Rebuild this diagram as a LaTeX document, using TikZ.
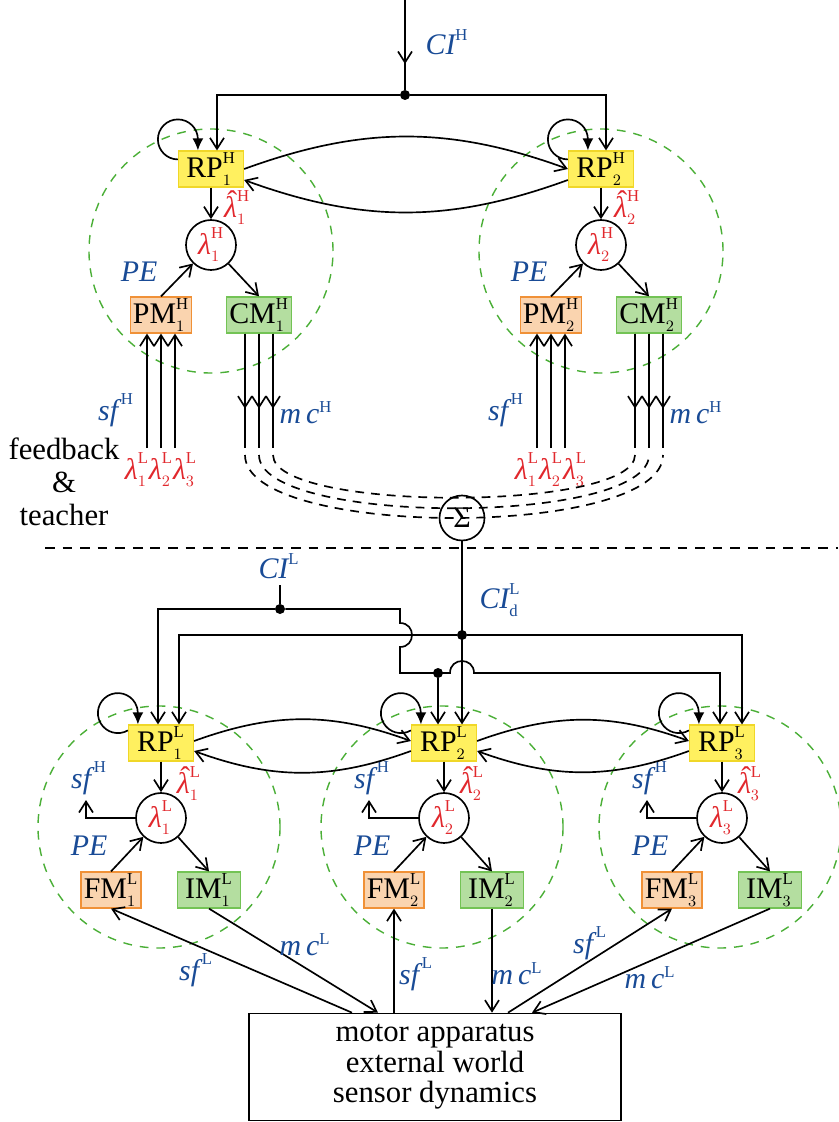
\documentclass[tikz,border=0pt]{standalone}
\usepackage{fontspec}
\setmainfont{Liberation Serif}
\usepackage{tikz}
\usetikzlibrary{arrows.meta}
\DeclareMathSizes{17}{17}{9.5}{7}
\definecolor{rpyellow}{RGB}{255, 240, 95}
\definecolor{rpedge}{RGB}{240, 215, 40}
\definecolor{pmorange}{RGB}{250, 212, 175}
\definecolor{pmedge}{RGB}{240, 145, 55}
\definecolor{cmgreen}{RGB}{180, 222, 160}
\definecolor{cmedge}{RGB}{115, 195, 85}
\definecolor{ringgreen}{RGB}{75, 175, 55}
\definecolor{labelblue}{RGB}{25, 75, 150}
\definecolor{labelred}{RGB}{225, 40, 45}
\newcommand{\lam}{\mbox{\itshape λ}}
\newcommand{\lamhat}{\mbox{\ooalign{\itshape λ\cr\hidewidth\smash{\raisebox{0.2em}{\hskip0.12em ˆ}}\hidewidth\cr}}}
\tikzset{
    wire/.style={line width=0.95pt},
    arr/.style={wire, -{Straight Barb[length=2.2mm,width=2.8mm]}},
    selfloop/.style={wire, -{Latex[length=2.4mm,width=2.2mm]}},
    ring/.style={ringgreen, dash pattern=on 5pt off 4.5pt, line width=0.8pt},
    fbdash/.style={wire, dash pattern=on 5pt off 4pt},
    unit/.style={draw, line width=0.7pt, minimum width=1.2cm, minimum height=0.7cm, inner xsep=1.5pt, inner ysep=1pt},
    rpbox/.style={unit, fill=rpyellow, draw=rpedge, minimum width=1.3cm},
    pmbox/.style={unit, fill=pmorange, draw=pmedge},
    cmbox/.style={unit, fill=cmgreen, draw=cmedge, minimum width=1.26cm},
    lamnode/.style={circle, draw, wire, minimum size=1cm, inner sep=0pt, text=labelred},
    sumnode/.style={circle, draw, wire, minimum size=0.9cm, inner sep=0pt},
    bluelabel/.style={text=labelblue},
    redlabel/.style={text=labelred},
    dot/.style={circle, fill, inner sep=0pt, minimum size=0.2cm}
}

\begin{document}
\begin{tikzpicture}[x=0.2mm, y=-0.2mm, font=\fontsize{17}{20}\selectfont]
    \useasboundingbox (0,0) rectangle (838,1122);

    % Upper level: context input
    \coordinate (ciH) at (405,0);
    \node[dot] (jH) at (405,95) {};
    \node[bluelabel] (ciHtext) at (447,42) {$\mathit{CI}^{\mathrm{H}}$};

    % Upper level modules
    \foreach \i/\cx in {1/211, 2/601} {
        \draw[ring] (\cx,251) circle (2.44cm);
        \node[rpbox] (rpH\i) at (\cx,169) {$\mathrm{RP}^{\mathrm{H}}_{\i}$};
        \node[lamnode] (lH\i) at (\cx,245) {$\lam^{\mathrm{H}}_{\i}$};
        \node[redlabel] (hatH\i) at (\cx+26,208) {$\lamhat^{\mathrm{H}}_{\i}$};
        \node[pmbox] (pmH\i) at (\cx-50,315) {$\mathrm{PM}^{\mathrm{H}}_{\i}$};
        \node[cmbox] (cmH\i) at (\cx+48,315) {$\mathrm{CM}^{\mathrm{H}}_{\i}$};
        \node[bluelabel] (peH\i) at (\cx-72,272) {$\mathit{PE}$};
        \node[bluelabel] (sfH\i) at (\cx-95,410) {$\mathit{sf}^{\,\mathrm{H}}$};
        \node[bluelabel] (mcH\i) at (\cx+95,413) {$\mathit{m\,c}^{\mathrm{H}}$};
        \node[redlabel] (lamL\i) at (\cx-50,470) {$\lam^{\mathrm{L}}_{1}\lam^{\mathrm{L}}_{2}\lam^{\mathrm{L}}_{3}$};
        \draw[arr] (rpH\i) -- (lH\i);
        \draw[arr] (pmH\i.north) -- (lH\i);
        \draw[arr] (lH\i) -- (cmH\i.north);
        \draw[selfloop] ([yshift=-0.18cm]rpH\i.north west) arc[start angle=270, end angle=0, radius=0.4cm] -- ([xshift=0.4cm]rpH\i.north west);
        % sensory inputs and motor commands
        \foreach \j/\dx in {1/-14, 2/0, 3/14} {
            \coordinate (inH\i\j) at (\cx-50+\dx,448);
            \coordinate (outH\i\j) at (\cx+48+\dx,448);
            \draw[arr] (inH\i\j) -- (inH\i\j |- pmH\i.south);
            \draw[wire] (outH\i\j |- cmH\i.south) -- (outH\i\j);
            \draw[arr] (outH\i\j |- cmH\i.south) -- ++(0,75);
        }
    }
    \draw[wire] (ciH) -- (jH);
    \draw[arr] (ciH) -- ++(0,64);
    \draw[arr] (jH) -| ([xshift=0.12cm]rpH1.north);
    \draw[arr] (jH) -| ([xshift=0.1cm]rpH2.north);
    \draw[arr] (rpH1.east) to[bend left=20] (rpH2.west);
    \draw[arr] ([yshift=-0.22cm]rpH2.west) to[bend left=20] ([yshift=-0.22cm]rpH1.east);

    % Summed motor commands
    \node[sumnode] (sum) at (462,518) {Σ};
    \foreach \a/\b/\d in {3/1/57, 2/2/71, 1/3/84} {
        \draw[fbdash] ([yshift=-0.14cm]outH1\a) .. controls +(0,\d) and +(0,\d) .. ([yshift=-0.14cm]outH2\b);
    }
    \node[align=center, font=\fontsize{17.5}{18.8}\selectfont] (teach) at (64,482) {feedback\\\&\\teacher};

    % Level separator
    \draw[wire, dash pattern=on 5.5pt off 4.5pt] (45,548) -- (838,548);

    % Lower level modules
    \foreach \i/\cx in {1/161, 2/444, 3/722} {
        \draw[ring] (\cx-2,827) circle (2.42cm);
        \node[rpbox] (rpL\i) at (\cx,743) {$\mathrm{RP}^{\mathrm{L}}_{\i}$};
        \node[lamnode] (lL\i) at (\cx,818) {$\lam^{\mathrm{L}}_{\i}$};
        \node[redlabel] (hatL\i) at (\cx+28,784) {$\lamhat^{\mathrm{L}}_{\i}$};
        \node[pmbox] (fmL\i) at (\cx-50,890) {$\mathrm{FM}^{\mathrm{L}}_{\i}$};
        \node[cmbox] (imL\i) at (\cx+48,890) {$\mathrm{IM}^{\mathrm{L}}_{\i}$};
        \node[bluelabel] (peL\i) at (\cx-72,846) {$\mathit{PE}$};
        \coordinate (sfHout\i) at (\cx-75,800);
        \node[bluelabel] (sfHL\i) at (\cx-72,778) {$\mathit{sf}^{\,\mathrm{H}}$};
        \draw[arr] (lL\i.west) -| (sfHout\i);
        \draw[arr] (rpL\i) -- (lL\i);
        \draw[arr] (fmL\i.north) -- (lL\i);
        \draw[arr] (lL\i) -- (imL\i.north);
        \draw[selfloop] ([yshift=-0.12cm]rpL\i.north west) arc[start angle=300, end angle=0, radius=0.4cm] -- ([xshift=0.2cm]rpL\i.north west);
    }
    \foreach \a/\b in {1/2, 2/3} {
        \draw[arr] ([yshift=0.04cm]rpL\a.east) to[bend left=20] ([yshift=0.04cm]rpL\b.west);
        \draw[arr] ([yshift=-0.16cm]rpL\b.west) to[bend left=20] ([yshift=-0.16cm]rpL\a.east);
    }

    % Lower level context inputs
    \node[bluelabel] (ciLtext) at (279,566) {$\mathit{CI}^{\mathrm{L}}$};
    \node[bluelabel] (cidtext) at (500,600) {$\mathit{CI}^{\mathrm{L}}_{\mathrm{d}}$};
    \coordinate (ciL) at (280,585);
    \node[dot] (jL1) at (280,609) {};
    \node[dot] (jL2) at (438,673) {};
    \node[dot] (jL3) at (462,635) {};
    \draw[wire] (ciL) -- (jL1);
    \draw[arr] (jL1) -| ([xshift=-0.06cm]rpL1.north);
    \draw[arr] (jL1) -- (400,609) -- (400,623) .. controls +(0.32cm,0) and +(0.32cm,0) .. (400,647) -- (400,673) -- (450,673) .. controls +(0,0.32cm) and +(0,0.32cm) .. (474,673) -| ([xshift=-0.04cm]rpL3.north);
    \draw[arr] (jL2) -- (jL2 |- rpL2.north);
    \draw[arr] (sum) -- (sum |- rpL2.north);
    \draw[arr] (jL3) -| ([xshift=0.36cm]rpL1.north);
    \draw[arr] (jL3) -| ([xshift=0.4cm]rpL3.north);

    % Plant
    \node[draw, wire, minimum width=7.44cm, minimum height=2.14cm, align=center, font=\fontsize{17.5}{17.3}\selectfont] (world) at (435,1067) {motor apparatus\\external world\\sensor dynamics};
    \draw[arr] ([xshift=-1.66cm]world.north) -- (fmL1.south);
    \draw[arr] (imL1.south) -- ([xshift=-1.14cm]world.north);
    \draw[arr] (world.north -| fmL2.south) -- (fmL2.south);
    \draw[arr] (imL2.south) -- (imL2.south |- world.north);
    \draw[arr] ([xshift=1.46cm]world.north) -- (fmL3.south);
    \draw[arr] (imL3.south) -- ([xshift=1.94cm]world.north);
    \node[bluelabel] (sfL1) at (196,970) {$\mathit{sf}^{\,\mathrm{L}}$};
    \node[bluelabel] (mcL1) at (305,945) {$\mathit{m\,c}^{\mathrm{L}}$};
    \node[bluelabel] (sfL2) at (416,974) {$\mathit{sf}^{\,\mathrm{L}}$};
    \node[bluelabel] (mcL2) at (517,974) {$\mathit{m\,c}^{\mathrm{L}}$};
    \node[bluelabel] (sfL3) at (590,943) {$\mathit{sf}^{\,\mathrm{L}}$};
    \node[bluelabel] (mcL3) at (650,978) {$\mathit{m\,c}^{\mathrm{L}}$};
\end{tikzpicture}
\end{document}
